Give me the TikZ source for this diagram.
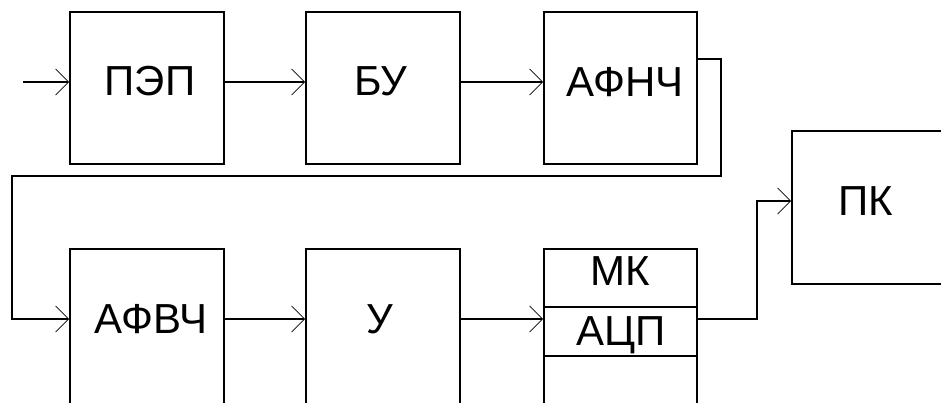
\documentclass[tikz,border=0pt]{standalone}
\usepackage{fontspec}
\setmainfont{Liberation Sans}
\usetikzlibrary{arrows.meta}
\begin{document}
\begin{tikzpicture}[x=1pt,y=-1pt,
  blk/.style={draw, line width=1.6pt, rectangle, inner sep=0pt},
  lbl/.style={anchor=base, inner sep=0pt, font=\fontsize{42}{50}\selectfont},
  wire/.style={line width=1.5pt},
  sig/.style={wire, -{Straight Barb[length=13pt,width=26pt,line width=0.8pt]}},
]
\fill[white] (0,0) rectangle (941,403);
\useasboundingbox (0,0) rectangle (941,403);

% blocks
\node[blk, minimum width=154pt, minimum height=152pt] (pep)   at (147,88) {};
\node[blk, minimum width=154pt, minimum height=152pt] (bu)    at (383,88) {};
\node[blk, minimum width=153pt, minimum height=152pt] (afnch) at (620.5,88) {};
\node[blk, minimum width=168pt, minimum height=153pt] (pk)    at (876,207.5) {};
\node[blk, minimum width=154pt, minimum height=161pt] (afvch) at (147,329.5) {};
\node[blk, minimum width=154pt, minimum height=161pt] (u)     at (383,329.5) {};
\node[blk, minimum width=153pt, minimum height=161pt] (mk)    at (620.5,329.5) {};

% dividers of the МК / АЦП block
\coordinate (d1) at (0,307);
\coordinate (d2) at (0,356);
\draw[wire] (mk.west |- d1) -- (mk.east |- d1);
\draw[wire] (mk.west |- d2) -- (mk.east |- d2);

% labels
\node[lbl] (tpep)   at (150,96)    {ПЭП};
\node[lbl] (tbu)    at (381,96)    {БУ};
\node[lbl] (tafnch) at (625,96.5)  {АФНЧ};
\node[lbl] (tpk)    at (865.5,215) {ПК};
\node[lbl] (tafvch) at (151,333)   {АФВЧ};
\node[lbl] (tu)     at (380,333)   {У};
\node[lbl] (tmk)    at (620,285)   {МК};
\node[lbl] (tadc)   at (621.5,345) {АЦП};

% signal paths
\coordinate (in) at (23,82);
\coordinate (r2) at (0,319);
\coordinate (t1) at (721,59);
\coordinate (t2) at (12,176);
\coordinate (t3) at (757,201);

\draw[sig] (in) -- (pep.west |- in);
\draw[sig] (pep.east |- in) -- (bu.west |- in);
\draw[sig] (bu.east |- in) -- (afnch.west |- in);
\draw[sig] (afnch.east |- t1) -- (t1) -- (t1 |- t2) -- (t2) -- (t2 |- r2) -- (afvch.west |- r2);
\draw[sig] (afvch.east |- r2) -- (u.west |- r2);
\draw[sig] (u.east |- r2) -- (mk.west |- r2);
\draw[sig] (mk.east |- r2) -- (t3 |- r2) -- (t3) -- (pk.west |- t3);
\end{tikzpicture}
\end{document}
